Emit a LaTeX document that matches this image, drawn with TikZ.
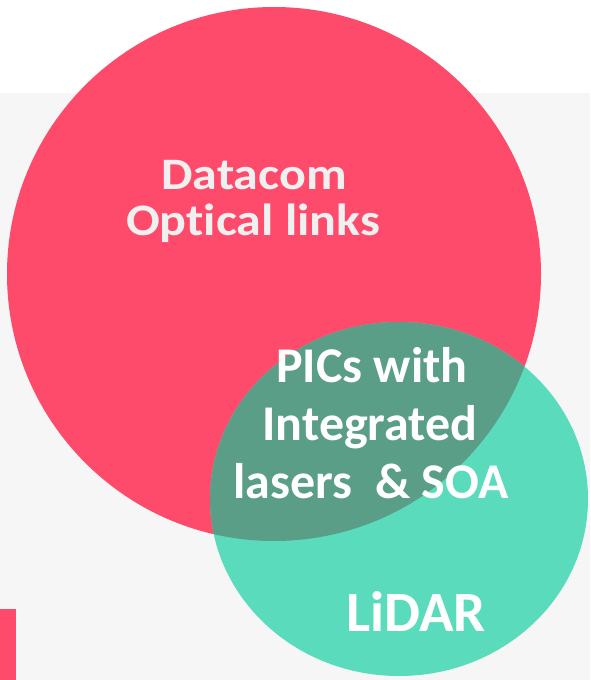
\documentclass[tikz,border=0pt]{standalone}
\usepackage{fontspec}
\setmainfont{Carlito}[Ligatures={NoCommon}]
\definecolor{redc}{HTML}{FF4B6B}
\definecolor{tealc}{HTML}{5ADCBC}
\definecolor{overlapc}{HTML}{5A9E87}
\definecolor{bggray}{HTML}{F6F6F6}
\definecolor{lightt}{HTML}{F0F0F0}
\tikzset{
  lbl/.style={anchor=base, inner sep=0pt, font=\bfseries\fontsize{50}{58}\selectfont, text=white},
}
\begin{document}
\begin{tikzpicture}[x=1pt,y=-1pt]
\useasboundingbox (0,0) rectangle (590,680);
\fill[white] (0,0) rectangle (590,93);
\fill[bggray] (0,93) rectangle (590,680);
\fill[redc] (0,609) rectangle (16,680);
\fill[redc] (274,274) circle (267);
\fill[tealc] (399,499) ellipse (189 and 177);
\begin{scope}
  \clip (274,274) circle (267);
  \fill[overlapc] (399,499) ellipse (189 and 177);
\end{scope}
\node[lbl, text=lightt] (t1) at (254,189) {\scalebox{1}[0.9]{Datacom}};
\node[lbl, text=lightt] (t2) at (253,235) {\scalebox{1}[0.9]{Optical links}};
\node[lbl] (p1) at (372,382) {PICs with};
\node[lbl] (p2) at (370,440) {Integrated};
\node[lbl] (p3) at (371,498) {lasers\ \ \&\ SOA};
\node[lbl, font=\bfseries\fontsize{57}{66}\selectfont] (l1) at (416,631) {LiDAR};
\end{tikzpicture}
\end{document}
